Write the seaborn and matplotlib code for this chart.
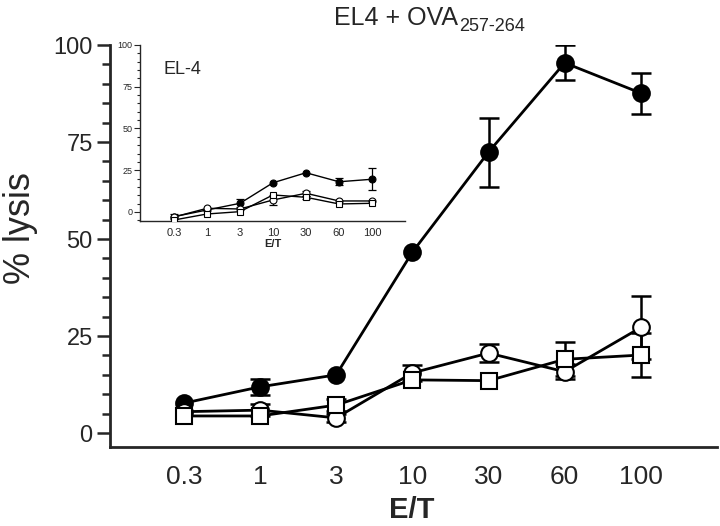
import numpy as np
import pandas as pd
import matplotlib
matplotlib.use("Agg")
import matplotlib.pyplot as plt
from matplotlib.ticker import MultipleLocator
import seaborn as sns

# ---- data ----
et_labels = ["0.3", "1", "3", "10", "30", "60", "100"]

main_filled = [7.7, 11.9, 15.0, 46.6, 72.4, 95.4, 87.6]
main_filled_err = [0, 2.1, 0, 0, 8.9, 4.5, 5.3]
main_circle = [5.5, 5.9, 3.9, 15.5, 20.6, 15.8, 27.2]
main_circle_err = [0, 1.5, 1.0, 2.0, 2.3, 2.0, 8.0]
main_square = [4.4, 4.4, 7.2, 13.7, 13.5, 19.0, 20.1]
main_square_err = [0, 0, 1.5, 0, 0, 4.4, 5.7]

inset_filled = [-2.8, 1.2, 5.2, 17.5, 23.5, 18.1, 19.6]
inset_filled_err = [1.5, 0, 2.5, 0, 0, 2.0, 6.6]
inset_circle = [-3.0, 2.2, 1.8, 7.2, 11.2, 6.6, 6.6]
inset_circle_err = [0, 0, 0, 3.0, 1.5, 0, 0]
inset_square = [-4.8, -1.2, 0.2, 10.2, 8.8, 4.8, 5.2]
inset_square_err = [0, 0, 0, 0, 1.0, 0, 0]

sns.set_style("ticks")
plt.rcParams["font.family"] = ["Liberation Sans", "DejaVu Sans"]

fig = plt.figure(figsize=(7.2, 5.26), dpi=100)
W, H = 720, 526

def frac_axes(l, t, r, b):
    return [l / W, 1 - b / H, (r - l) / W, (b - t) / H]

ax = fig.add_axes(frac_axes(110, 45, 717, 447))
axi = fig.add_axes(frac_axes(140, 45, 405, 221))

pos = np.arange(len(et_labels))

def draw(a, series, lw, ms, mew, cap, elw):
    for vals, errs, marker, face in series:
        df = pd.DataFrame({"pos": pos, "val": vals})
        sns.lineplot(data=df, x="pos", y="val", ax=a, color="black", lw=lw,
                     marker=marker, markersize=ms, markerfacecolor=face,
                     markeredgecolor="black", markeredgewidth=mew, zorder=3)
        e = np.array(errs, dtype=float)
        m = e > 0
        a.errorbar(pos[m], np.array(vals)[m], yerr=e[m], fmt="none",
                   ecolor="black", elinewidth=elw, capsize=cap, capthick=elw,
                   zorder=2)

draw(ax, [
    (main_filled, main_filled_err, "o", "black"),
    (main_circle, main_circle_err, "o", "white"),
    (main_square, main_square_err, "s", "white"),
], lw=2.0, ms=12, mew=1.5, cap=7, elw=1.8)

draw(axi, [
    (inset_filled, inset_filled_err, "o", "black"),
    (inset_circle, inset_circle_err, "o", "white"),
    (inset_square, inset_square_err, "s", "white"),
], lw=1.0, ms=5, mew=0.8, cap=3, elw=0.9)

# main axes styling
ax.set_xlim(-0.97, 7.0)
ax.set_ylim(-3.6, 100)
ax.set_xticks(pos)
ax.set_xticklabels(et_labels, fontsize=19)
ax.set_yticks([0, 25, 50, 75, 100])
ax.set_yticklabels(["0", "25", "50", "75", "100"], fontsize=17)
ax.yaxis.set_minor_locator(MultipleLocator(5))
ax.tick_params(axis="x", length=0, pad=13)
ax.tick_params(axis="y", which="major", length=9.5, width=1.8, pad=3, direction="out")
ax.tick_params(axis="y", which="minor", length=6, width=1.8, direction="out")
ax.set_xlabel("")
ax.set_ylabel("")
for s in ["top", "right"]:
    ax.spines[s].set_visible(False)
for s in ["left", "bottom"]:
    ax.spines[s].set_linewidth(2.0)
ax.spines["left"].set_bounds(-3.6, 100)

# inset styling
axi.set_facecolor("white")
axi.set_xlim(-1.03, 7.0)
axi.set_ylim(-5.4, 100)
axi.set_xticks(pos)
axi.set_xticklabels(et_labels, fontsize=8)
axi.set_yticks([0, 25, 50, 75, 100])
axi.set_yticklabels(["0", "25", "50", "75", "100"], fontsize=6.5)
axi.yaxis.set_minor_locator(MultipleLocator(5))
axi.tick_params(axis="x", length=0, pad=5)
axi.tick_params(axis="y", which="major", length=4, width=0.8, pad=1.5)
axi.tick_params(axis="y", which="minor", length=2.5, width=0.8)
axi.set_xlabel("E/T", fontsize=8, fontweight="bold", labelpad=1)
axi.set_ylabel("")
for s in ["top", "right"]:
    axi.spines[s].set_visible(False)
for s in ["left", "bottom"]:
    axi.spines[s].set_linewidth(1.0)
axi.text(0.087, 0.86, "EL-4", transform=axi.transAxes, fontsize=13,
         ha="left", va="center")

# figure texts
fig.text(458 / W, 1 - 25 / H, "EL4 + OVA", fontsize=18, ha="right", va="baseline")
fig.text(459 / W, 1 - 31 / H, "257-264", fontsize=13, ha="left", va="baseline")
fig.text(20 / W, 1 - 228 / H, "% lysis", fontsize=26, rotation=90,
         ha="center", va="center")
fig.text(412 / W, 1 - 510 / H, "E/T", fontsize=21, fontweight="bold",
         ha="center", va="center")

fig.savefig("out.png", dpi=100)
